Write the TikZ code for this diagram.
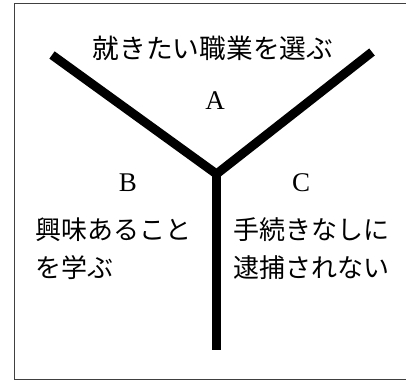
\documentclass[tikz,border=0pt]{standalone}
\usepackage{fontspec}
\newfontfamily\jp{Noto Sans CJK JP}
\newfontfamily\lat{Liberation Serif}
\begin{document}
\begin{tikzpicture}[x=1pt,y=-1pt,
  jtext/.style={font=\jp\fontsize{26}{26}\selectfont, inner sep=0pt},
  ltext/.style={font=\lat\fontsize{27}{27}\selectfont, inner sep=0pt},
  arm/.style={line width=9pt, line join=miter}]
\useasboundingbox (0,0) rectangle (406,380);
\draw[line width=1pt, black!75] (14,3) rectangle (408,379);
\coordinate (l) at (52,55);
\coordinate (r) at (372,52);
\coordinate (j) at (216.5,174);
\coordinate (s) at (216.5,350);
\draw[arm] (l) -- (j) -- (r);
\draw[arm] (j) -- (s);
\node[jtext, font=\jp\fontsize{26.7}{26.7}\selectfont] (title) at (213,48) {就きたい職業を選ぶ};
\node[ltext] (A) at (215,101) {A};
\node[ltext] (B) at (128,183) {B};
\node[ltext] (C) at (301,183) {C};
\node[jtext, anchor=west] (b1) at (35,230) {興味あること};
\node[jtext, anchor=west] (b2) at (35,268) {を学ぶ};
\node[jtext, anchor=west] (c1) at (233,230) {手続きなしに};
\node[jtext, anchor=west] (c2) at (233,268) {逮捕されない};
\end{tikzpicture}
\end{document}
